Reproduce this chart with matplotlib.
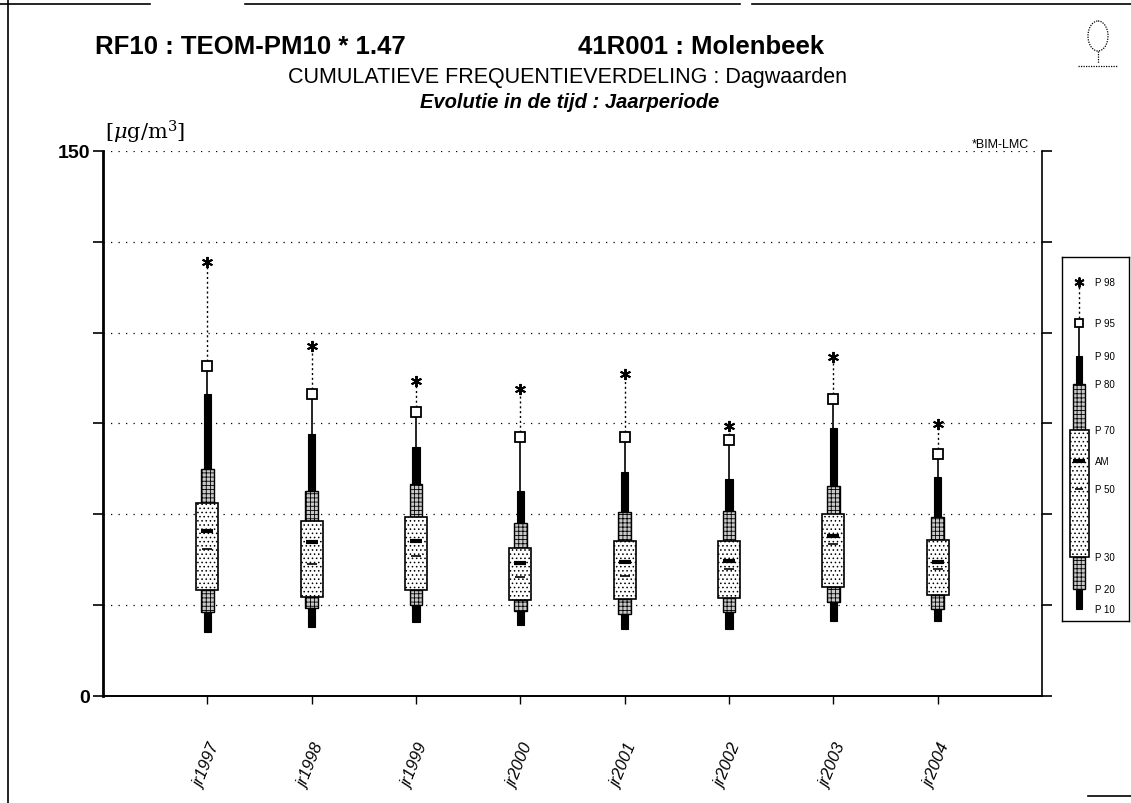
import matplotlib
matplotlib.use("Agg")
import matplotlib.pyplot as plt
import numpy as np
from matplotlib.patches import Rectangle, Ellipse
from matplotlib.lines import Line2D
from matplotlib.ticker import FuncFormatter

plt.rcParams["font.family"] = ["Liberation Sans", "DejaVu Sans"]
plt.rcParams["hatch.linewidth"] = 0.6

# percentielen per jaar (ug/m3)
years = ["jr1997", "jr1998", "jr1999", "jr2000", "jr2001", "jr2002", "jr2003", "jr2004"]
p98 = [119.5, 96.3, 86.7, 84.5, 88.6, 74.3, 93.3, 74.9]
p95 = [90.8, 83.1, 78.2, 71.3, 71.3, 70.5, 81.7, 66.6]
p90 = [83.1, 72.1, 68.5, 56.4, 61.7, 59.7, 73.8, 60.3]
p80 = [62.5, 56.4, 58.4, 47.6, 50.6, 50.9, 57.8, 49.3]
p70 = [53.1, 48.2, 49.3, 40.7, 42.7, 42.7, 50.1, 42.9]
am = [45.4, 42.4, 42.7, 36.6, 36.9, 37.2, 44.0, 36.9]
p50 = [40.5, 36.3, 38.5, 32.8, 33.0, 35.0, 41.8, 35.0]
p30 = [29.2, 27.2, 29.2, 26.4, 26.7, 27.0, 30.0, 27.8]
p20 = [23.1, 24.2, 25.0, 23.4, 22.6, 23.1, 25.9, 23.9]
p10 = [17.6, 19.0, 20.4, 19.5, 18.4, 18.4, 20.6, 20.6]

legend_labels = ["P 98", "P 95", "P 90", "P 80", "P 70", "AM", "P 50", "P 30", "P 20", "P 10"]
# legende-symbool in pixelhoogte (van boven naar beneden)
legend_levels = [283, 324, 357, 385, 431, 462, 490, 558, 590, 610]

W, H = 1131, 804


def px(x, y):
    return x / W, 1 - y / H


def draw_glyph(ax, x, q98, q95, q90, q80, q70, qam, q50, q30, q20, q10, w, ms=1.0):
    ax.plot([x, x], [q95, q98], color="k", lw=1.0, ls=(0, (1.5, 2)), zorder=3)
    ax.plot([x, x], [q90, q95], color="k", lw=1.2, zorder=3)
    ax.add_patch(Rectangle((x - w * 0.16, q80), w * 0.32, q90 - q80, fc="k", ec="k", lw=0.8, zorder=3))
    ax.add_patch(Rectangle((x - w * 0.29, q70), w * 0.58, q80 - q70, fc="#c8c8c8", ec="k",
                           hatch="++++", lw=1.0, zorder=3))
    ax.add_patch(Rectangle((x - w / 2, q30), w, q70 - q30, fc="white", ec="k",
                           hatch="....", lw=1.2, zorder=3))
    ax.add_patch(Rectangle((x - w * 0.29, q20), w * 0.58, q30 - q20, fc="#c8c8c8", ec="k",
                           hatch="++++", lw=1.0, zorder=3))
    ax.add_patch(Rectangle((x - w * 0.16, q10), w * 0.32, q20 - q10, fc="k", ec="k", lw=0.8, zorder=3))
    ax.plot(x, q95, marker="s", ms=6.5 * ms, mfc="white", mec="k", mew=1.3, zorder=4)
    ax.plot(x, q98, marker=(6, 2, 0), ms=8 * ms, mec="k", mew=1.4, zorder=4)
    ax.plot(x, qam, marker="_", ms=9 * ms, mec="k", mew=3, zorder=4)
    ax.plot(x, q50, marker="_", ms=7 * ms, mec="k", mew=1.2, zorder=4)


fig = plt.figure(figsize=(W / 100, H / 100), dpi=100)
fig.patch.set_facecolor("white")

l, b = px(103, 697)
ax = fig.add_axes([l, b, 939 / W, 545 / H])
ax.set_xlim(-1, 8)
ax.set_ylim(0, 150)

xs = np.arange(len(years))
for i in range(len(years)):
    draw_glyph(ax, xs[i], p98[i], p95[i], p90[i], p80[i], p70[i], am[i], p50[i],
               p30[i], p20[i], p10[i], w=0.21)

ax.set_yticks(np.arange(0, 151, 25))
ax.yaxis.set_major_formatter(FuncFormatter(lambda v, p: f"{v:.0f}" if v in (0, 150) else ""))
ax.set_xticks(xs)
ax.set_xticklabels(years, rotation=68, ha="center", va="top", fontsize=12, style="italic")
ax.tick_params(axis="x", direction="out", length=6, width=1, pad=26)
ax.tick_params(axis="y", direction="out", length=7, width=1.2, right=True, labelright=False,
               labelsize=14, pad=2)
for t in ax.get_yticklabels():
    t.set_fontweight("bold")
ax.grid(axis="y", color="k", ls=(0, (1, 5)), lw=0.9)
ax.spines["top"].set_visible(False)
ax.spines["left"].set_linewidth(2)
ax.spines["bottom"].set_linewidth(1.4)
ax.spines["right"].set_linewidth(1.2)

# legende
lx0, ly1 = px(1062, 622)
lax = fig.add_axes([lx0, ly1, 67 / W, 364 / H])
lax.set_xlim(1062, 1129)
lax.set_ylim(622, 258)
lax.set_xticks([])
lax.set_yticks([])
for s in lax.spines.values():
    s.set_linewidth(1.0)
draw_glyph(lax, 1079, *legend_levels, w=19, ms=0.9)
for lab, yy in zip(legend_labels, legend_levels):
    lax.text(1095, yy, lab, fontsize=7, va="center", ha="left")

# titels
fig.text(*px(95, 47), "RF10 : TEOM-PM10 * 1.47", fontsize=18.5, fontweight="bold", va="center")
fig.text(*px(578, 47), "41R001 : Molenbeek", fontsize=18.5, fontweight="bold", va="center")
fig.text(*px(567, 78), "CUMULATIEVE FREQUENTIEVERDELING : Dagwaarden", fontsize=15.5,
         ha="center", va="center")
fig.text(*px(570, 102), "Evolutie in de tijd : Jaarperiode", fontsize=14.5, fontweight="bold",
         style="italic", ha="center", va="center")
fig.text(*px(105, 132), r"[$\mu$g/m$^3$]", fontsize=15, family="DejaVu Serif", va="center",
         math_fontfamily="dejavuserif")
fig.text(*px(1000, 145), "*BIM-LMC", fontsize=9, ha="center", va="center")

# kader
fig.add_artist(Line2D([8 / W, 8 / W], [0, 1], color="k", lw=1.2))
for x0, x1 in [(0, 150), (245, 740), (752, 1131)]:
    fig.add_artist(Line2D([x0 / W, x1 / W], [1 - 5 / H, 1 - 5 / H], color="k", lw=1.2))
fig.add_artist(Line2D([1088 / W, 1131 / W], [1 - 797 / H, 1 - 797 / H], color="k", lw=1.2))

# boom-logo
tax = fig.add_axes([1075 / W, 1 - 72 / H, 45 / W, 52 / H])
tax.set_xlim(0, 45)
tax.set_ylim(52, 0)
tax.axis("off")
tax.add_patch(Ellipse((23, 17), 20, 30, fill=False, ec="k", lw=0.9, ls=(0, (1, 1))))
tax.plot([23, 23], [32, 44], color="k", lw=0.9, ls=(0, (1, 1)))
tax.plot([3, 43], [47, 47], color="k", lw=0.9, ls=(0, (1, 1)))

fig.savefig("out.png", dpi=100, facecolor="white")
